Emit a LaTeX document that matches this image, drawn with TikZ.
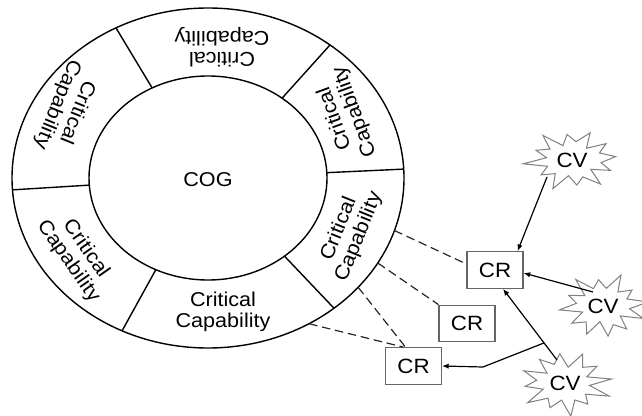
\documentclass[tikz,border=0pt]{standalone}
\usepackage{fontspec}
\setmainfont{Liberation Sans}[FakeStretch=1.08]
\usetikzlibrary{arrows.meta,calc}
\newcommand{\cvburst}[4]{%
  \draw[starline, shift={(#1)}]
    plot[samples at={0,1,...,23}, variable=\k]
      ({#2*(1-0.4*mod(\k,2))*(1+0.12*sin(97*\k+#4))*cos(15*\k+7)},
       {#3*(1-0.4*mod(\k,2))*(1+0.12*sin(97*\k+#4))*sin(15*\k+7)}) -- cycle;}
\begin{document}
\begin{tikzpicture}[x=0.75pt,y=0.75pt,
  ring/.style={line width=1.05pt},
  lbl/.style={align=center, font=\fontsize{15}{16}\selectfont, inner sep=0},
  crbox/.style={draw=gray!80!black, line width=0.8pt, minimum width=42pt, minimum height=27.5pt, inner sep=0, font=\fontsize{15.5}{17}\selectfont, fill=white},
  starline/.style={draw=gray, line width=0.75pt, fill=white, line join=miter},
  cvtext/.style={inner sep=0, font=\fontsize{15.5}{17}\selectfont},
  conn/.style={line width=0.9pt, -{Latex[length=5pt,width=4pt]}},
  dashline/.style={dash pattern=on 6.5pt off 3.5pt, line width=0.9pt, draw=black!85}
]
\useasboundingbox (0,0) rectangle (642,415);
\coordinate (c) at (208,237);
\draw[ring] (c) ellipse [x radius=196, y radius=170];
\draw[ring] (c) ellipse [x radius=119, y radius=102];
\foreach \t in {118,51.5,3,-50,-116,184}
  \draw[ring] ($(c)+(\t:119 and 102)$) -- ($(c)+(\t:196 and 170)$);

\node[lbl] (cog) at (208,235) {COG};
\node[lbl, rotate=180] (cc1) at (222,368) {Critical\\Capability};
\node[lbl, rotate=110] (cc2) at (345,300) {Critical\\Capability};
\node[lbl, rotate=68] (cc3) at (349,182) {Critical\\Capability};
\node[lbl] (cc4) at (223,103) {Critical\\Capability};
\node[lbl, rotate=-55] (cc5) at (77,160) {Critical\\Capability};
\node[lbl, rotate=-112] (cc6) at (67,307) {Critical\\Capability};

\node[crbox] (cr1) at (495,145) {CR};
\node[crbox] (cr2) at (467,91.5) {CR};
\node[crbox] (cr3) at (413.5,49) {CR};

\coordinate (p1) at (572,255);
\coordinate (p2) at (603,109);
\coordinate (p3) at (565,32);
\cvburst{p1}{44}{28}{0}
\cvburst{p2}{41}{30}{60}
\cvburst{p3}{43}{30}{130}
\node[cvtext] (cv1) at (p1) {CV};
\node[cvtext] (cv2) at (p2) {CV};
\node[cvtext] (cv3) at (p3) {CV};

\draw[conn] ($(cv1.center)+(-25,-17)$) -- ($(cr1.north east)+(-6,0)$);
\draw[conn] ($(cv2.center)+(-10,14)$) -- ($(cr1.east)+(0,-3)$);
\coordinate (a3) at ($(cv3.center)+(-8,23)$);
\coordinate (b3) at ($(cr1.south)+(8,0)$);
\draw[conn] (a3) -- (b3);
\coordinate (br) at ($(a3)!0.24!(b3)$);
\coordinate (bend) at (483,48);
\draw[conn] (br) -- (bend) -- (cr3.east);

\draw[dashline] ($(c)+(-18:196 and 170)$) -- ($(cr1.west)+(0,6)$);
\draw[dashline] ($(c)+(-30:196 and 170)$) -- (cr2.north west);
\draw[dashline] ($(c)+(-40:196 and 170)$) -- ($(cr3.north)+(-8,0)$);
\draw[dashline] ($(c)+(-59:196 and 170)$) -- ($(cr3.north)+(-10,0)$);
\end{tikzpicture}
\end{document}
